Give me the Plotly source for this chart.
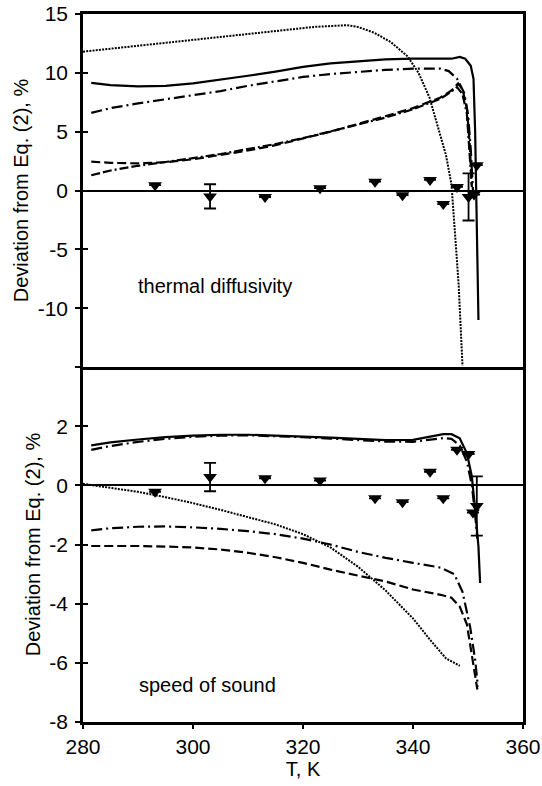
import plotly.graph_objects as go

# ---------------- thermal diffusivity (top panel) ----------------
td_dot_x = [280.0, 290, 300, 310, 316, 322, 328, 330, 333, 336, 339, 341, 343, 344.5, 346, 347, 347.6, 348.3, 349.0]
td_dot_y = [11.8, 12.3, 12.8, 13.3, 13.65, 13.9, 14.05, 13.9, 13.4, 12.6, 11.4, 10.0, 7.9, 5.5, 3.0, 0.5, -3.3, -8.0, -14.9]

td_solid_x = [281.5, 285, 290, 295, 300, 305, 310, 315, 320, 325, 330, 335, 340, 345, 347, 348.5, 349.5, 350.5, 351.0, 351.3, 351.5, 351.7, 351.9]
td_solid_y = [9.15, 8.95, 8.85, 8.9, 9.1, 9.4, 9.75, 10.1, 10.5, 10.8, 11.0, 11.15, 11.2, 11.2, 11.2, 11.35, 11.2, 10.6, 9.5, 5.0, 0.0, -5.0, -11.0]

td_dashdot_x = [281.5, 285, 290, 295, 300, 305, 310, 315, 320, 325, 330, 335, 340, 345, 346.5, 348, 349.3, 350, 350.5, 350.9]
td_dashdot_y = [6.6, 7.0, 7.4, 7.75, 8.05, 8.45, 8.9, 9.3, 9.65, 9.9, 10.1, 10.25, 10.35, 10.35, 10.15, 9.5, 8.3, 6.5, 3.5, 0.0]

td_dash_x = [281.5, 285, 290, 295, 300, 305, 310, 315, 320, 325, 330, 335, 340, 345, 347, 348.2, 349, 349.8, 350.3, 350.7]
td_dash_y = [2.45, 2.35, 2.3, 2.4, 2.65, 3.0, 3.4, 3.85, 4.4, 5.0, 5.65, 6.3, 7.0, 7.9, 8.5, 9.1, 8.6, 7.0, 4.0, 0.5]

td_ldd_x = [281.5, 285, 290, 295, 300, 305, 310, 315, 320, 325, 330, 335, 340, 345, 347, 348, 349, 349.8, 350.3, 350.7]
td_ldd_y = [1.3, 1.7, 2.1, 2.4, 2.75, 3.1, 3.5, 3.95, 4.45, 5.0, 5.6, 6.2, 6.9, 7.8, 8.4, 8.8, 8.2, 6.5, 3.5, 0.3]

td_pts_x = [293.1, 303.1, 313.1, 323.1, 333.1, 338.1, 343.1, 345.5, 348.0, 350.1, 351.1, 351.6]
td_pts_y = [0.45, -0.5, -0.55, 0.2, 0.75, -0.4, 0.9, -1.15, 0.3, -0.55, -0.35, 2.15]
td_pts_err = [0, 1.03, 0, 0, 0, 0, 0, 0, 0, 2.0, 0, 0]

# ---------------- speed of sound (bottom panel) ----------------
ss_solid_x = [281.5, 285, 290, 295, 300, 305, 310, 315, 320, 325, 330, 335, 340, 343, 345.5, 347, 348.5, 349.8, 350.7, 351.3, 351.9, 352.2]
ss_solid_y = [1.35, 1.45, 1.55, 1.63, 1.68, 1.71, 1.71, 1.69, 1.65, 1.61, 1.56, 1.53, 1.54, 1.65, 1.73, 1.73, 1.59, 1.08, 0.3, -0.83, -2.07, -3.3]

ss_dashdot_x = [281.5, 285, 290, 295, 300, 305, 310, 315, 320, 325, 330, 335, 340, 343, 345.5, 347, 348.5, 349.8, 350.7, 351.3, 351.7]
ss_dashdot_y = [1.2, 1.33, 1.47, 1.57, 1.64, 1.68, 1.69, 1.67, 1.63, 1.58, 1.52, 1.48, 1.47, 1.54, 1.6, 1.57, 1.35, 0.8, 0.0, -1.0, -1.8]

ss_dot_x = [280.0, 285, 290, 295, 300, 305, 310, 315, 320, 325, 330, 335, 340, 343, 346, 348.5]
ss_dot_y = [0.05, -0.08, -0.22, -0.4, -0.6, -0.83, -1.08, -1.32, -1.65, -2.1, -2.75, -3.55, -4.5, -5.2, -5.85, -6.1]

ss_ldd_x = [281.5, 285, 290, 295, 300, 305, 310, 315, 320, 325, 330, 335, 340, 345, 347.5, 349, 350.4, 351.3, 351.8]
ss_ldd_y = [-1.52, -1.45, -1.4, -1.39, -1.42, -1.47, -1.55, -1.65, -1.8, -2.0, -2.25, -2.45, -2.62, -2.78, -3.0, -3.6, -4.8, -5.9, -6.8]

ss_dash_x = [281.5, 285, 290, 295, 300, 305, 310, 315, 320, 325, 330, 335, 340, 345, 347, 348.5, 349.8, 350.7, 351.3, 351.7]
ss_dash_y = [-2.05, -2.04, -2.05, -2.07, -2.1, -2.17, -2.28, -2.43, -2.62, -2.85, -3.05, -3.25, -3.52, -3.7, -3.8, -4.1, -4.7, -5.7, -6.4, -6.9]

ss_pts_x = [293.1, 303.1, 313.1, 323.1, 333.1, 338.1, 343.1, 345.5, 348.0, 350.1, 350.9, 351.6]
ss_pts_y = [-0.22, 0.28, 0.24, 0.16, -0.44, -0.57, 0.46, -0.44, 1.2, 1.06, -0.92, -0.7]
ss_pts_err = [0, 0.48, 0, 0, 0, 0, 0, 0, 0, 0, 0, 1.0]

x_ticks = [280, 300, 320, 340, 360]
td_ticks = [-15, -10, -5, 0, 5, 10, 15]
td_ticktext = ["", "-10", "-5", "0", "5", "10", "15"]
ss_ticks = [-8, -6, -4, -2, 0, 2, 4]
ss_ticktext = ["-8", "-6", "-4", "-2", "0", "2", ""]

FONT = "Liberation Sans, Arial, sans-serif"
K = "black"
DOT = "2px,1.2px"
DASH = "9px,4px"
DASHDOT = "11px,4px,2px,4px"
LDD = "9px,3px,9px,3px,2px,3px"
TICKFONT = dict(family=FONT, size=21, color=K)
TEXTFONT = dict(family=FONT, size=20, color=K)

fig = go.Figure()

def line(x, y, dash, w, xa, ya):
    fig.add_trace(go.Scatter(x=x, y=y, mode="lines", xaxis=xa, yaxis=ya,
                             line=dict(color=K, width=w, dash=dash), showlegend=False,
                             hoverinfo="skip"))

# top
line(td_dot_x, td_dot_y, DOT, 2.0, "x2", "y2")
line(td_solid_x, td_solid_y, "solid", 2.2, "x2", "y2")
line(td_dashdot_x, td_dashdot_y, DASHDOT, 2.2, "x2", "y2")
line(td_dash_x, td_dash_y, DASH, 2.2, "x2", "y2")
line(td_ldd_x, td_ldd_y, LDD, 2.2, "x2", "y2")
fig.add_trace(go.Scatter(x=td_pts_x, y=td_pts_y, mode="markers", xaxis="x2", yaxis="y2",
                         marker=dict(symbol="triangle-down", size=12, color=K),
                         error_y=dict(type="data", array=td_pts_err, color=K, thickness=1.8, width=6),
                         showlegend=False))

# bottom
line(ss_dot_x, ss_dot_y, DOT, 2.0, "x", "y")
line(ss_ldd_x, ss_ldd_y, DASHDOT, 2.2, "x", "y")
line(ss_dash_x, ss_dash_y, DASH, 2.2, "x", "y")
line(ss_dashdot_x, ss_dashdot_y, DASHDOT, 2.2, "x", "y")
line(ss_solid_x, ss_solid_y, "solid", 2.2, "x", "y")
fig.add_trace(go.Scatter(x=ss_pts_x, y=ss_pts_y, mode="markers", xaxis="x", yaxis="y",
                         marker=dict(symbol="triangle-down", size=12, color=K),
                         error_y=dict(type="data", array=ss_pts_err, color=K, thickness=1.8, width=6),
                         showlegend=False))

# invisible traces for the overlay (inner tick) axes
fig.add_trace(go.Scatter(x=[], y=[], xaxis="x", yaxis="y3", showlegend=False))
fig.add_trace(go.Scatter(x=[], y=[], xaxis="x2", yaxis="y4", showlegend=False))

split = 0.5014
common_y = dict(showgrid=False, showline=True, linecolor=K, linewidth=2.5, mirror=True,
                ticks="outside", ticklen=5, tickwidth=2, tickcolor=K, automargin=False,
                zeroline=True, zerolinecolor=K, zerolinewidth=2, ticklabelstandoff=3,
                tickfont=TICKFONT)

fig.update_layout(
    width=542, height=786,
    margin=dict(l=83, r=19, t=14, b=64, autoexpand=False),
    paper_bgcolor="white", plot_bgcolor="white",
    font=dict(family=FONT, size=20, color=K),
    xaxis=dict(domain=[0, 1], range=[280, 360], tickvals=x_ticks, showgrid=False,
               showline=True, linecolor=K, linewidth=2.5, mirror=False, automargin=False,
               ticks="outside", ticklen=4, tickwidth=2, tickcolor=K, zeroline=False,
               tickfont=TICKFONT,
               title=dict(text="T, K", font=TEXTFONT, standoff=4),
               anchor="y"),
    yaxis=dict(domain=[0, split], range=[-8, 4], tickvals=ss_ticks, ticktext=ss_ticktext,
               title=dict(text="Deviation from Eq. (2), %", font=TEXTFONT, standoff=4),
               anchor="x", **common_y),
    xaxis2=dict(domain=[0, 1], range=[280, 360], showgrid=False, showline=True, automargin=False,
                linecolor=K, linewidth=2.5, mirror=True, ticks="", showticklabels=False,
                zeroline=False, anchor="y2"),
    yaxis2=dict(domain=[split, 1], range=[-15, 15], tickvals=td_ticks, ticktext=td_ticktext,
                title=dict(text="Deviation from Eq. (2), %", font=TEXTFONT, standoff=4),
                anchor="x2", **common_y),
    yaxis3=dict(overlaying="y", range=[-8, 4], tickvals=ss_ticks, ticks="inside", ticklen=5,
                tickwidth=2, tickcolor=K, showticklabels=False, showgrid=False, zeroline=False,
                showline=False, anchor="x", automargin=False),
    yaxis4=dict(overlaying="y2", range=[-15, 15], tickvals=td_ticks, ticks="inside", ticklen=5,
                tickwidth=2, tickcolor=K, showticklabels=False, showgrid=False, zeroline=False,
                showline=False, anchor="x2", automargin=False),
    annotations=[
        dict(text="thermal diffusivity", x=304, y=-8.1, xref="x2", yref="y2", showarrow=False,
             font=TEXTFONT),
        dict(text="speed of sound", x=302.7, y=-6.75, xref="x", yref="y", showarrow=False,
             font=TEXTFONT),
    ],
)

# remove the default 8px page margin so the figure sits at the window's top-left corner
fig.write_html("out.html",
               config={"displayModeBar": False},
               post_script="document.body.style.margin='0';document.body.style.overflow='hidden';")
